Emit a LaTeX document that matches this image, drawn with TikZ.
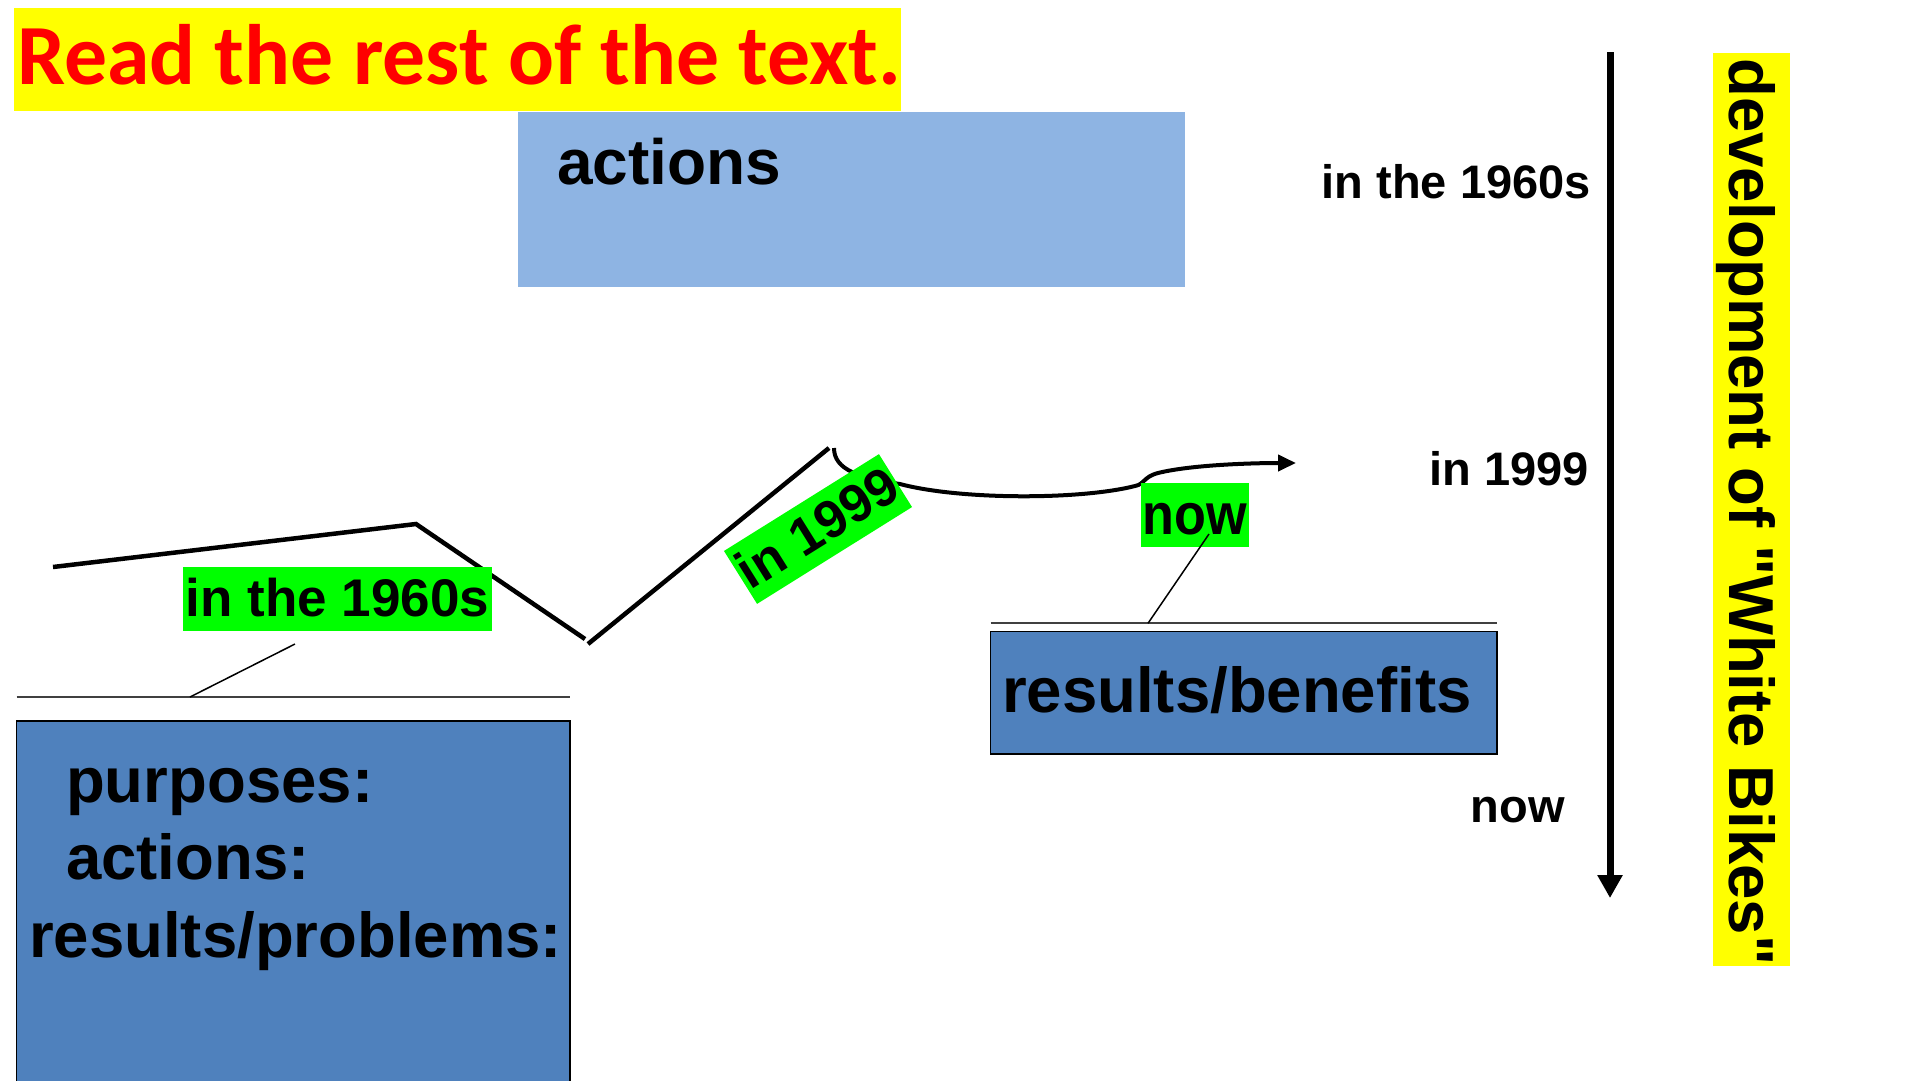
\documentclass[tikz,border=0pt]{standalone}
\usepackage{fontspec}
\setmainfont{Liberation Sans}
\newfontfamily\titlefont{Carlito}
\newfontfamily\bandfont{Liberation Sans}
\usetikzlibrary{arrows.meta}
\definecolor{markgreen}{RGB}{0,255,0}
\definecolor{markyellow}{RGB}{255,255,0}
\definecolor{lightblue}{RGB}{142,180,227}
\definecolor{midblue}{RGB}{79,129,189}
\tikzset{
  greenlabel/.style={fill=markgreen, inner xsep=2.5pt, inner ysep=0pt, font=\fontsize{53}{60}\selectfont\bfseries},
  timelabel/.style={inner sep=0pt, font=\fontsize{47}{56}\selectfont\bfseries},
  boxtext/.style={inner sep=0pt, font=\fontsize{63.5}{75}\selectfont\bfseries},
  bluebox/.style={draw=black, line width=1.5pt, fill=midblue},
  zigzag/.style={line width=4.5pt},
  pointer/.style={line width=1.5pt},
  baseline/.style={line width=2pt, draw=black!75}
}
\begin{document}
\begin{tikzpicture}[x=1pt,y=-1pt]
	\useasboundingbox (0,0) rectangle (1920,1080);
	% title
	\fill[markyellow] (14,8) rectangle (901,111);
	\node (title) at (17,84) [anchor=base west, inner sep=0pt, text=red, font=\fontsize{85.7}{90}\selectfont\titlefont\bfseries] {Read the rest of the text.};
	% boxes
	\fill[lightblue] (518,112) rectangle (1185,286.5);
	\node (actions) at (557,184) [boxtext, anchor=base west, font=\fontsize{64}{75}\selectfont\bfseries] {actions};
	\draw[bluebox] (16.7,721) rectangle (570,1083);
	\node (purposes) at (66,802) [boxtext, anchor=base west] {purposes:};
	\node (actions2) at (66,879) [boxtext, anchor=base west] {actions:};
	\node (problems) at (29,957) [boxtext, anchor=base west] {results/problems:};
	\draw[bluebox] (990.6,631.7) rectangle (1497,754);
	\node (benefits) at (1002,712) [boxtext, anchor=base west] {results/benefits};
	% zigzag and curve
	\draw[zigzag] (53,567) -- (416,524) -- (585,639);
	\draw[zigzag] (588,644) -- (829,448);
	\coordinate (c0) at (834,448);
	\coordinate (c1) at (1296,463);
	\draw[line width=4pt, -{Triangle[length=18pt,width=16pt]}] (c0) .. controls (834,470) and (860,478) .. (900,484)
		.. controls (960,500) and (1080,500) .. (1135,486)
		.. controls (1145,484) and (1143,477) .. (1158,473)
		.. controls (1190,465) and (1250,463) .. (c1);
	% green labels
	\node (g60) at (183,567) [greenlabel, anchor=north west, text height=49.5pt, text depth=14.5pt] {in the 1960s};
	\node (g99) at (818,529) [greenlabel, rotate=32, inner xsep=1.5pt, text height=48pt, text depth=14.4pt] {in 1999};
	\node (gnow) at (1141,483) [greenlabel, anchor=north west, inner xsep=1.5pt, text height=51pt, text depth=13pt, font=\fontsize{58}{64}\selectfont\bfseries] {\scalebox{0.9}[1]{now}};
	% lines under the labels
	\coordinate (l0) at (16.7,697);
	\coordinate (l1) at (570,697);
	\coordinate (l60) at (190,697);
	\coordinate (p60) at (295,644);
	\draw[baseline] (l0) -- (l1);
	\draw[pointer] (p60) -- (l60);
	\coordinate (r0) at (990.6,623.3);
	\coordinate (r1) at (1497,623.3);
	\coordinate (rnow) at (1148,623.3);
	\coordinate (pnow) at (1209,534);
	\draw[baseline] (r0) -- (r1);
	\draw[pointer] (pnow) -- (rnow);
	% time line
	\coordinate (tstart) at (1610,52);
	\coordinate (tend) at (1610,898);
	\draw[line width=7pt, -{Triangle[length=23pt,width=24pt]}] (tstart) -- (tend);
	\node (t60) at (1591,198) [timelabel, anchor=base east] {in the 1960s};
	\node (t99) at (1589,485.5) [timelabel, anchor=base east] {in 1999};
	\node (tnow) at (1565,822) [timelabel, anchor=base east] {now};
	% side band
	\fill[markyellow] (1713,53) rectangle (1790,966);
	\node (dev) at (1729,58) [inner sep=0pt, rotate=-90, anchor=base west, font=\fontsize{63.5}{70}\selectfont\bandfont\bfseries] {development of "White Bikes"};
\end{tikzpicture}
\end{document}
